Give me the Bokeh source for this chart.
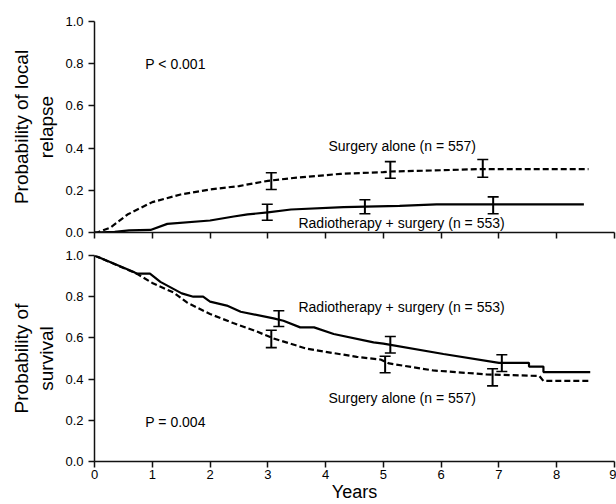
from bokeh.plotting import figure
from bokeh.layouts import column
from bokeh.models import Range1d, FixedTicker, PrintfTickFormatter, Whisker, TeeHead, ColumnDataSource
from bokeh.core.properties import value
from bokeh.embed import file_html
from bokeh.resources import INLINE

# ---------------- data ----------------
# Top panel: probability of local relapse
relapse_surg_x = [0, 0.05, 0.28, 0.57, 1.0, 1.49, 2.0, 2.5, 3.0, 3.5, 4.26, 5.0, 5.12, 5.87, 6.62, 8.55]
relapse_surg_y = [0, 0.0, 0.024, 0.085, 0.144, 0.18, 0.204, 0.22, 0.245, 0.26, 0.278, 0.286, 0.289, 0.294, 0.30, 0.30]
relapse_rad_x = [0, 0.35, 0.6, 0.97, 1.26, 2.0, 2.41, 2.65, 3.0, 3.4, 4.31, 5.28, 5.92, 8.47]
relapse_rad_y = [0, 0.003, 0.01, 0.012, 0.041, 0.057, 0.076, 0.086, 0.095, 0.109, 0.12, 0.126, 0.133, 0.133]

relapse_surg_err_x = [3.06, 5.12, 6.72]
relapse_surg_err_hi = [0.283, 0.336, 0.346]
relapse_surg_err_lo = [0.204, 0.257, 0.262]
relapse_rad_err_x = [2.99, 4.68, 6.9]
relapse_rad_err_hi = [0.134, 0.155, 0.169]
relapse_rad_err_lo = [0.058, 0.089, 0.089]

# Bottom panel: probability of survival
surv_rad_x = [0, 0.68, 0.73, 0.96, 1.14, 1.51, 1.71, 1.88, 2.0, 2.29, 2.53, 3.1, 3.27, 3.56, 3.8, 4.14, 4.83,
              5.0, 6.04, 7.0, 7.52, 7.52, 7.77, 7.77, 8.58]
surv_rad_y = [1.0, 0.92, 0.912, 0.912, 0.872, 0.816, 0.80, 0.80, 0.776, 0.757, 0.727, 0.695, 0.683, 0.651, 0.651,
              0.619, 0.578, 0.572, 0.522, 0.479, 0.479, 0.461, 0.461, 0.434, 0.434]
surv_surg_x = [0, 0.73, 1.0, 1.37, 1.6, 2.0, 2.4, 2.8, 3.1, 3.68, 4.54, 4.95, 5.1, 5.86, 6.78, 7.7, 7.77, 8.58]
surv_surg_y = [1.0, 0.912, 0.867, 0.82, 0.772, 0.716, 0.672, 0.632, 0.597, 0.547, 0.508, 0.495, 0.476, 0.442,
               0.423, 0.415, 0.391, 0.391]

surv_rad_err_x = [3.19, 5.12, 7.05]
surv_rad_err_hi = [0.732, 0.607, 0.518]
surv_rad_err_lo = [0.655, 0.527, 0.437]
surv_surg_err_x = [3.06, 5.03, 6.89]
surv_surg_err_hi = [0.637, 0.511, 0.45]
surv_surg_err_lo = [0.553, 0.431, 0.367]

x_ticks = [0, 1, 2, 3, 4, 5, 6, 7, 8, 9]
y_ticks = [0.0, 0.2, 0.4, 0.6, 0.8, 1.0]

top_labels = ["P < 0.001", "Surgery alone (n = 557)", "Radiotherapy + surgery (n = 553)"]
top_label_x = [0.88, 4.05, 3.53]
top_label_y = [0.80, 0.41, 0.047]
bot_labels = ["P = 0.004", "Surgery alone (n = 557)", "Radiotherapy + surgery (n = 553)"]
bot_label_x = [0.88, 4.05, 3.53]
bot_label_y = [0.19, 0.31, 0.75]

FONT = "Liberation Sans"
XMAX = 9.0


def base_fig(height, top_border, bottom_border, ylabel):
    p = figure(width=616, height=height, output_backend="svg", toolbar_location=None,
               x_range=Range1d(0, XMAX), y_range=Range1d(0, 1),
               min_border_left=94, min_border_right=2, min_border_top=top_border,
               min_border_bottom=bottom_border)
    p.outline_line_color = None
    p.grid.visible = False
    p.background_fill_color = "white"
    p.border_fill_color = "white"
    for ax in (p.xaxis[0], p.yaxis[0]):
        ax.axis_line_color = "#111111"
        ax.axis_line_width = 1.5
        ax.major_tick_line_color = "#111111"
        ax.major_tick_line_width = 1.5
        ax.major_tick_out = 6
        ax.major_tick_in = 0
        ax.minor_tick_line_color = None
        ax.major_label_text_font = FONT
        ax.major_label_text_font_size = "13px"
        ax.major_label_text_color = "black"
    p.xaxis.ticker = FixedTicker(ticks=x_ticks)
    p.yaxis.ticker = FixedTicker(ticks=y_ticks)
    p.yaxis.formatter = PrintfTickFormatter(format="%.1f")
    p.yaxis.major_label_standoff = 5
    p.yaxis.axis_label = ylabel
    p.yaxis.axis_label_text_font = FONT
    p.yaxis.axis_label_text_font_size = "19px"
    p.yaxis.axis_label_text_font_style = "normal"
    p.yaxis.axis_label_text_color = "black"
    p.yaxis.axis_label_standoff = 5
    return p


def add_err(p, xs, hi, lo):
    src = ColumnDataSource(dict(x=xs, hi=hi, lo=lo))
    w = Whisker(base="x", upper="hi", lower="lo", source=src, dimension="height",
                line_color="black", line_width=2,
                upper_head=TeeHead(size=11, line_width=1.6, line_color="black"),
                lower_head=TeeHead(size=11, line_width=1.6, line_color="black"))
    p.add_layout(w)


# ---------------- top panel ----------------
p1 = base_fig(244, 21, 12, "Probability of local\nrelapse")
p1.xaxis.major_label_overrides = {t: "" for t in x_ticks}
p1.xaxis.major_label_standoff = 0
p1.line(relapse_surg_x, relapse_surg_y, line_color="black", line_width=2.2, line_dash="6 3")
p1.line(relapse_rad_x, relapse_rad_y, line_color="black", line_width=2.2)
add_err(p1, relapse_surg_err_x, relapse_surg_err_hi, relapse_surg_err_lo)
add_err(p1, relapse_rad_err_x, relapse_rad_err_hi, relapse_rad_err_lo)
p1.text(x=top_label_x, y=top_label_y, text=top_labels, text_font=value(FONT),
        text_font_size=value("14px"), text_baseline="middle", text_align="left", text_color="black")

# ---------------- bottom panel ----------------
p2 = base_fig(260, 11, 41, "Probability of\nsurvival")
p2.xaxis.major_label_standoff = 2
p2.xaxis.axis_label = "Years"
p2.xaxis.axis_label_text_font = FONT
p2.xaxis.axis_label_text_font_size = "18px"
p2.xaxis.axis_label_text_font_style = "normal"
p2.xaxis.axis_label_text_color = "black"
p2.xaxis.axis_label_standoff = 0
p2.line(surv_surg_x, surv_surg_y, line_color="black", line_width=2.2, line_dash="6 3")
p2.line(surv_rad_x, surv_rad_y, line_color="black", line_width=2.2)
add_err(p2, surv_rad_err_x, surv_rad_err_hi, surv_rad_err_lo)
add_err(p2, surv_surg_err_x, surv_surg_err_hi, surv_surg_err_lo)
p2.text(x=bot_label_x, y=bot_label_y, text=bot_labels, text_font=value(FONT),
        text_font_size=value("14px"), text_baseline="middle", text_align="left", text_color="black")

layout = column(p1, p2, spacing=0)
open("out.html", "w").write(file_html(layout, INLINE))
